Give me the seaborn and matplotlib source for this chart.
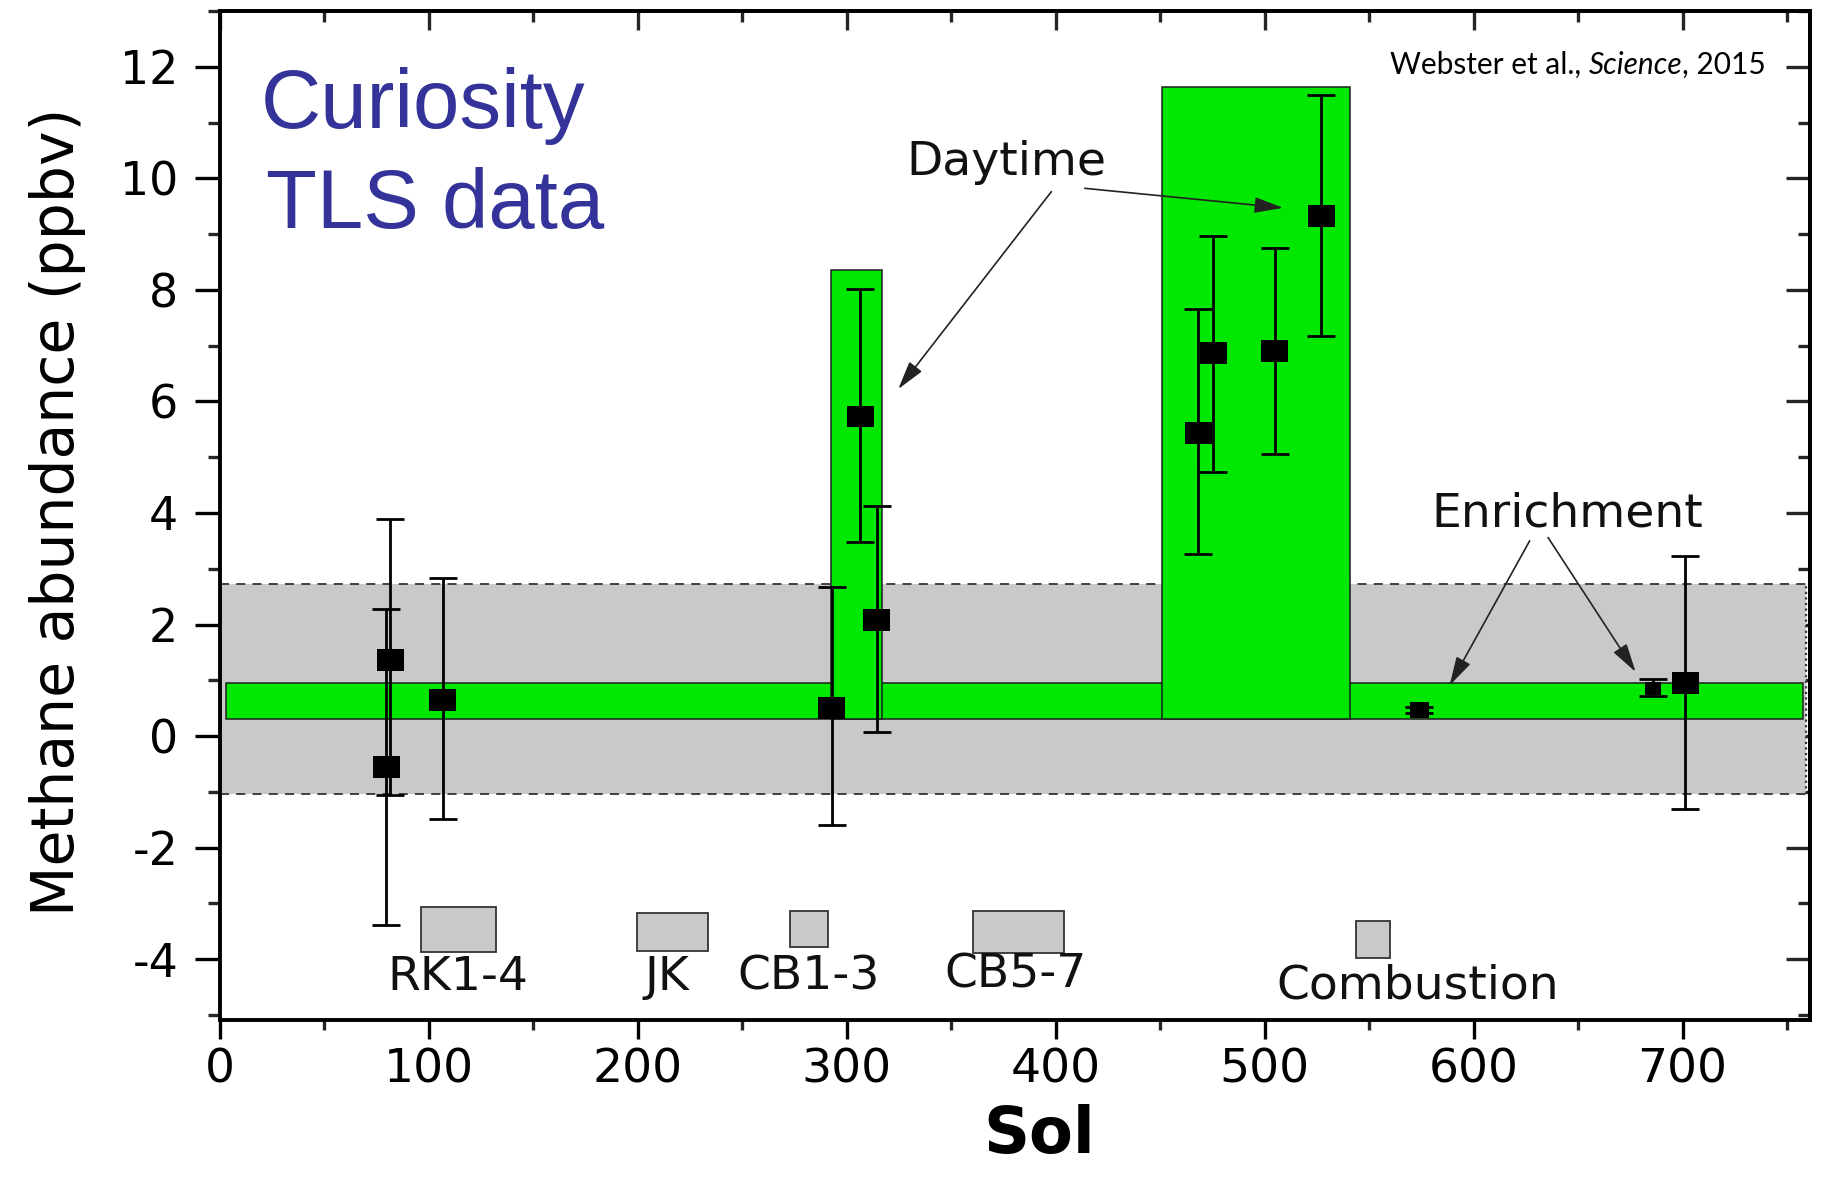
import matplotlib
matplotlib.use("Agg")
import matplotlib.pyplot as plt
import seaborn as sns
import numpy as np
import pandas as pd
from matplotlib.ticker import MultipleLocator, FixedLocator

# ---------------- data ----------------
sol = [79.5, 81.5, 106.5, 292.8, 306.5, 314.4, 468.2, 475.4, 504.9, 527.1, 574.0, 685.7, 701.2]
methane = [-0.56, 1.37, 0.64, 0.51, 5.73, 2.08, 5.44, 6.86, 6.90, 9.32, 0.47, 0.86, 0.95]
err_low = [-3.38, -1.06, -1.49, -1.60, 3.48, 0.07, 3.26, 4.74, 5.05, 7.18, 0.42, 0.71, -1.30]
err_high = [2.28, 3.89, 2.84, 2.67, 8.02, 4.13, 7.65, 8.96, 8.75, 11.50, 0.52, 1.03, 3.23]
marker_area = [376, 376, 376, 376, 376, 376, 376, 376, 376, 376, 190, 130, 376]

background_low, background_high = 0.30, 0.96
background_start, background_end = 3.0, 757.5
uncert_low, uncert_high = -1.04, 2.72
uncert_start, uncert_end = 0.0, 758.9

daytime_start = [292.5, 450.9]
daytime_end = [316.6, 541.0]
daytime_top = [8.36, 11.63]

run_labels = ["RK1-4", "JK", "CB1-3", "CB5-7", "Combustion"]
run_start = [96.2, 199.8, 272.6, 360.4, 543.8]
run_end = [131.9, 233.7, 290.9, 403.7, 559.9]
run_low = [-3.87, -3.85, -3.78, -3.89, -3.97]
run_high = [-3.07, -3.18, -3.14, -3.14, -3.32]

x_ticks = [0, 100, 200, 300, 400, 500, 600, 700]
y_ticks = [-4, -2, 0, 2, 4, 6, 8, 10, 12]

# ---------------- style ----------------
sns.set_theme(style="ticks")
plt.rcParams["font.family"] = ["DejaVu Sans"]
plt.rcParams["axes.unicode_minus"] = False

GREEN = "#00e800"
GREY = "#c9c9c9"
EDGE = "#1e1e1e"

fig = plt.figure(figsize=(18.21, 11.77), dpi=100)
ax = fig.add_axes([0.1208, 0.1334, 0.8732, 0.8573])
ax.set_xlim(0, 761)
ax.set_ylim(-5.09, 13.0)

# grey uncertainty band
ax.fill_between([uncert_start, uncert_end], uncert_low, uncert_high,
                color=GREY, lw=0, zorder=1)
ax.hlines([uncert_low, uncert_high], uncert_start, uncert_end, colors="#333333",
          linestyles=(0, (5, 4)), lw=1.3, zorder=1.5)
ax.vlines(uncert_end, uncert_low, uncert_high, colors="#333333",
          linestyles=(0, (1, 1.5)), lw=1.6, zorder=1.5)

# green background band
ax.bar(background_start, background_high - background_low, width=background_end - background_start,
       bottom=background_low, align="edge", color=GREEN, edgecolor=EDGE, lw=1.1, zorder=2)

# daytime boxes
ax.bar(daytime_start, np.array(daytime_top) - background_low,
       width=np.array(daytime_end) - np.array(daytime_start),
       bottom=background_low, align="edge", color=GREEN, edgecolor=EDGE, lw=1.1, zorder=3)

# sample run boxes
ax.bar(run_start, np.array(run_high) - np.array(run_low),
       width=np.array(run_end) - np.array(run_start),
       bottom=run_low, align="edge", color=GREY, edgecolor="#333333", lw=1.3, zorder=3)

# error bars
m = np.array(methane)
yerr = np.vstack([m - np.array(err_low), np.array(err_high) - m])
ax.errorbar(sol, methane, yerr=yerr, fmt="none", ecolor="black", elinewidth=2.0,
            capsize=10, capthick=2.0, zorder=4)

# markers (slightly wide rectangles as in the reference)
rect = [(-1.23, -1), (1.23, -1), (1.23, 1), (-1.23, 1), (-1.23, -1)]
df = pd.DataFrame({"sol": sol, "methane": methane})
sns.scatterplot(data=df, x="sol", y="methane", marker=rect, s=marker_area,
                color="black", edgecolor="black", linewidth=0, ax=ax, zorder=5, legend=False)

# ---------------- axes ----------------
ax.xaxis.set_major_locator(FixedLocator(x_ticks))
ax.xaxis.set_minor_locator(MultipleLocator(50))
ax.yaxis.set_major_locator(FixedLocator(y_ticks))
ax.yaxis.set_minor_locator(MultipleLocator(1))
ax.tick_params(axis="x", which="major", direction="out", length=14, width=2.4,
               labelsize=34, pad=6, colors="black")
ax.tick_params(axis="x", which="minor", direction="out", length=7, width=2.4)
ax.tick_params(axis="y", which="major", direction="out", length=18, width=2.4,
               labelsize=33, pad=12, colors="black")
ax.tick_params(axis="y", which="minor", direction="out", length=8.5, width=2.4)
for s in ax.spines.values():
    s.set_linewidth(2.8)
    s.set_color("black")
    s.set_visible(True)

secx = ax.secondary_xaxis("top")
secx.xaxis.set_major_locator(FixedLocator(x_ticks + [800]))
secx.xaxis.set_minor_locator(MultipleLocator(50))
secx.tick_params(axis="x", which="major", direction="in", length=14, width=2.4, labeltop=False)
secx.tick_params(axis="x", which="minor", direction="in", length=8, width=2.4)
secx.spines["top"].set_linewidth(2.8)

secy = ax.secondary_yaxis("right")
secy.yaxis.set_major_locator(FixedLocator(y_ticks))
secy.yaxis.set_minor_locator(MultipleLocator(1))
secy.tick_params(axis="y", which="major", direction="in", length=17, width=2.4, labelright=False)
secy.tick_params(axis="y", which="minor", direction="in", length=8.5, width=2.4)
secy.spines["right"].set_linewidth(2.8)

ax.set_xlabel("Sol", fontsize=46, fontweight="bold", color="black")
ax.xaxis.set_label_coords(0.515, -0.083)
ax.set_ylabel("Methane abundance (ppbv)", fontsize=42, color="black")
ax.yaxis.set_label_coords(-0.084, 0.504)

# ---------------- annotations ----------------
ax.text(0.0255, 0.884, "Curiosity", transform=ax.transAxes, ha="left", va="baseline",
        fontsize=60, color="#333399", family=["Liberation Sans", "DejaVu Sans"])
ax.text(0.0292, 0.785, "TLS data", transform=ax.transAxes, ha="left", va="baseline",
        fontsize=60, color="#333399", family=["Liberation Sans", "DejaVu Sans"])

wfont = ["Lato", "DejaVu Sans"]
t3 = ax.text(0.9723, 0.9328, ", 2015", transform=ax.transAxes, ha="right", va="bottom",
             fontsize=21.5, color="black", family=wfont)
t2 = ax.annotate("Science", xy=(0, 0), xycoords=t3, ha="right", va="bottom",
                 fontsize=21.5, color="black", family=wfont, style="italic")
t1 = ax.annotate("Webster et al., ", xy=(0, 0), xycoords=t2, ha="right", va="bottom",
                 fontsize=21.5, color="black", family=wfont)

ax.text(376.3, 10.06, "Daytime", ha="center", va="baseline", fontsize=34, color="#111111")
ax.text(644.7, 3.75, "Enrichment", ha="center", va="baseline", fontsize=34, color="#111111")

arrow_kw = dict(arrowstyle="-|>,head_length=0.8,head_width=0.22", color="#222222",
                lw=1.2, mutation_scale=22, shrinkA=0, shrinkB=0)
ax.annotate("", xy=(324.6, 6.22), xytext=(397.9, 9.76), arrowprops=arrow_kw, zorder=6)
ax.annotate("", xy=(508.8, 9.47), xytext=(413.9, 9.82), arrowprops=arrow_kw, zorder=6)
ax.annotate("", xy=(588.5, 0.91), xytext=(626.8, 3.50), arrowprops=arrow_kw, zorder=6)
ax.annotate("", xy=(677.5, 1.15), xytext=(635.6, 3.56), arrowprops=arrow_kw, zorder=6)

label_x = [113.9, 213.7, 281.5, 380.7, 573.3]
label_y = [-4.55, -4.55, -4.55, -4.51, -4.71]
for lab, lx, ly in zip(run_labels, label_x, label_y):
    ax.text(lx, ly, lab, ha="center", va="baseline", fontsize=34, color="#111111")

fig.savefig("out.png", dpi=100)
